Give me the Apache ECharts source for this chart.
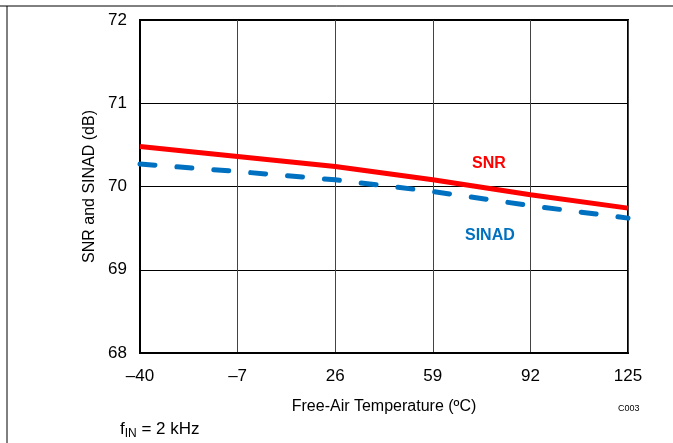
<!DOCTYPE html>
<html>
<head>
<meta charset="utf-8">
<script src="https://cdn.jsdelivr.net/npm/echarts@6/dist/echarts.min.js"></script>
<style>
  html, body { margin: 0; padding: 0; background: #fff; }
  #chart { width: 673px; height: 443px; }
</style>
</head>
<body>
<div id="chart"></div>
<script>
// temperature points (ºC)
var temps = [-40, -7, 26, 59, 92, 125];
var snr = [70.48, 70.36, 70.24, 70.08, 69.90, 69.74];
var sinad = [70.27, 70.18, 70.08, 69.94, 69.77, 69.62];

function pairs(xs, ys) {
    return xs.map(function(x, i) { return [x, ys[i]]; });
}

var myChart = echarts.init(document.getElementById('chart'));
var font = 'Liberation Sans, Arial, sans-serif';

var option = {
    animation: false,
    grid: {
        left: 140, right: 45, top: 20, bottom: 90,
        show: true, borderColor: '#000', borderWidth: 2
    },
    xAxis: {
        type: 'value',
        min: -40, max: 125, interval: 33,
        name: 'Free-Air Temperature (ºC)',
        nameLocation: 'middle',
        nameGap: 46,
        nameTextStyle: { fontFamily: font, fontSize: 16, color: '#000' },
        axisLine: { onZero: false, lineStyle: { color: '#000', width: 2 } },
        axisTick: { show: false },
        axisLabel: {
            margin: 15, fontFamily: font, fontSize: 17, color: '#000',
            formatter: function(v) { return String(v).replace('-', '–'); }
        },
        splitLine: { lineStyle: { color: '#444', width: 1 } }
    },
    yAxis: {
        type: 'value',
        min: 68, max: 72, interval: 1,
        name: 'SNR and SINAD (dB)',
        nameLocation: 'middle',
        nameGap: 40,
        nameTextStyle: { fontFamily: font, fontSize: 16, color: '#000' },
        axisLine: { onZero: false, lineStyle: { color: '#000', width: 2 } },
        axisTick: { show: false },
        axisLabel: { margin: 13, fontFamily: font, fontSize: 17, color: '#000' },
        splitLine: { lineStyle: { color: '#000', width: 1 } }
    },
    series: [{
        name: 'SNR',
        type: 'line',
        data: pairs(temps, snr),
        showSymbol: false,
        lineStyle: { color: '#ff0000', width: 5 },
        z: 3
    }, {
        name: 'SINAD',
        type: 'line',
        data: pairs(temps, sinad),
        showSymbol: false,
        lineStyle: { color: '#0070c0', width: 5, type: [15, 22], cap: 'round' },
        z: 2
    }],
    graphic: [
        { type: 'line', shape: { x1: 0, y1: 6, x2: 673, y2: 6 }, style: { stroke: '#000', lineWidth: 1 } },
        { type: 'line', shape: { x1: 7, y1: 6, x2: 7, y2: 443 }, style: { stroke: '#000', lineWidth: 1 } },
        { type: 'text', left: 472, top: 156, style: { text: 'SNR', fill: '#ff0000', font: 'bold 16px ' + font } },
        { type: 'text', left: 465, top: 228, style: { text: 'SINAD', fill: '#0070c0', font: 'bold 16px ' + font } },
        { type: 'text', left: 618, top: 404, style: { text: 'C003', fill: '#000', font: '9px ' + font } },
        {
            type: 'text', left: 120, top: 421,
            style: {
                text: '{a|f}{b|IN}{a| = 2 kHz}',
                rich: {
                    a: { fontFamily: font, fontSize: 17, fill: '#000' },
                    b: { fontFamily: font, fontSize: 12, fill: '#000', padding: [8, 0, 0, 0] }
                }
            }
        }
    ]
};
myChart.setOption(option);
</script>
</body>
</html>
